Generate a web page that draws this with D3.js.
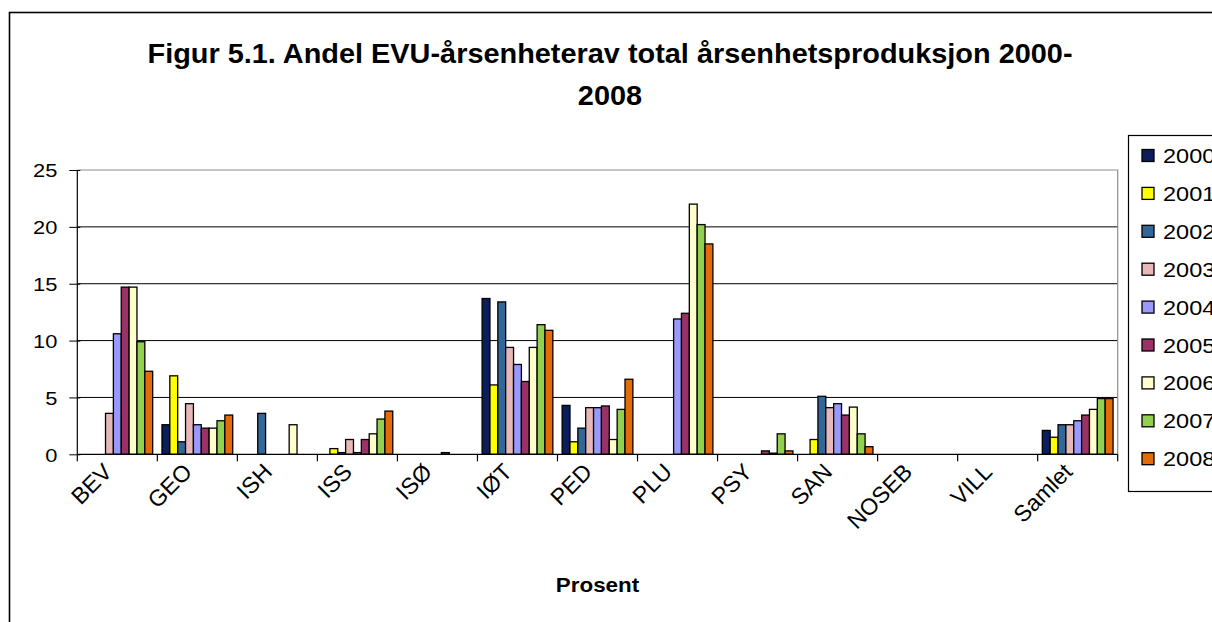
<!DOCTYPE html>
<html>
<head>
<meta charset="utf-8">
<script src="https://cdn.jsdelivr.net/npm/d3@7"></script>
<style>
  html, body { margin: 0; padding: 0; background: #fff; }
  svg { display: block; font-family: "Liberation Sans", Arial, sans-serif; }
</style>
</head>
<body>
<svg id="chart" width="1212" height="622"></svg>
<script>
const categories = ["BEV", "GEO", "ISH", "ISS", "ISØ", "IØT", "PED", "PLU", "PSY", "SAN", "NOSEB", "VILL", "Samlet"];
const years = ["2000", "2001", "2002", "2003", "2004", "2005", "2006", "2007", "2008"];
const colors = ["#0B1D5A", "#FFFF00", "#336699", "#E6B9B8", "#9999FF", "#993366", "#FFFFCC", "#92D050", "#E36C09"];
// values per year, in category order
const v2000 = [0, 2.6, 0, 0, 0, 13.7, 4.3, 0, 0, 0, 0, 0, 2.1];
const v2001 = [0, 6.9, 0, 0.5, 0, 6.1, 1.1, 0, 0, 1.3, 0, 0, 1.5];
const v2002 = [0, 1.1, 3.6, 0.15, 0, 13.4, 2.3, 0, 0, 5.1, 0, 0, 2.6];
const v2003 = [3.6, 4.45, 0, 1.3, 0, 9.4, 4.1, 0, 0, 4.1, 0, 0, 2.6];
const v2004 = [10.6, 2.6, 0, 0.15, 0, 7.9, 4.1, 11.9, 0, 4.45, 0, 0, 2.95];
const v2005 = [14.7, 2.3, 0, 1.3, 0.15, 6.4, 4.25, 12.4, 0.3, 3.45, 0, 0, 3.45];
const v2006 = [14.7, 2.3, 2.6, 1.8, 0, 9.4, 1.3, 22.0, 0.1, 4.15, 0, 0, 3.95];
const v2007 = [9.9, 2.95, 0, 3.1, 0, 11.4, 3.95, 20.2, 1.8, 1.8, 0, 0, 4.9];
const v2008 = [7.3, 3.45, 0, 3.8, 0, 10.9, 6.6, 18.5, 0.3, 0.67, 0, 0, 4.9];
const yTicks = [0, 5, 10, 15, 20, 25];
const titleLines = ["Figur 5.1. Andel EVU-årsenheterav total årsenhetsproduksjon 2000-", "2008"];
const xTitle = "Prosent";

const seriesValues = [v2000, v2001, v2002, v2003, v2004, v2005, v2006, v2007, v2008];

const svg = d3.select("#chart");
svg.append("rect").attr("width", 1212).attr("height", 622).attr("fill", "#fff");

// outer chart border
svg.append("rect")
  .attr("x", 9.5).attr("y", 12.5).attr("width", 1300).attr("height", 700)
  .attr("fill", "none").attr("stroke", "#000").attr("stroke-width", 1.6);

const pLeft = 77.3, pRight = 1117.7, pTop = 170, pBottom = 454.3;

const x = d3.scaleBand().domain(categories).range([pLeft, pRight]).paddingInner(0).paddingOuter(0);
const bw = x.bandwidth();
const xs = d3.scaleBand().domain(years).range([bw * 0.058, bw * 0.942]).padding(0);
const y = d3.scaleLinear().domain([0, 25]).range([pBottom, pTop]);

// gridlines
svg.append("g").selectAll("line").data(yTicks.filter(d => d > 0 && d < 25)).join("line")
  .attr("x1", pLeft).attr("x2", pRight)
  .attr("y1", d => y(d)).attr("y2", d => y(d))
  .attr("stroke", "#000").attr("stroke-width", 1);

// plot border top/right (grey)
svg.append("path")
  .attr("d", `M${pLeft},${y(25)}H${pRight}V${pBottom}`)
  .attr("fill", "none").attr("stroke", "#8c8c8c").attr("stroke-width", 1.2);

// bars
const g = svg.append("g");
years.forEach((yr, si) => {
  g.append("g").selectAll("rect")
    .data(categories.map((c, ci) => ({ c, v: seriesValues[si][ci] })).filter(d => d.v > 0))
    .join("rect")
    .attr("x", d => x(d.c) + xs(yr))
    .attr("width", xs.bandwidth())
    .attr("y", d => y(d.v))
    .attr("height", d => y(0) - y(d.v))
    .attr("fill", colors[si])
    .attr("stroke", "#000").attr("stroke-width", 1.3);
});

// y axis
const yAxis = d3.axisLeft(y).tickValues(yTicks).tickSize(8).tickPadding(12);
const ya = svg.append("g").attr("transform", `translate(${pLeft},0)`).call(yAxis);
ya.select(".domain").attr("stroke", "#000").attr("stroke-width", 1.2).attr("d", `M0,${pTop}V${pBottom}`);
ya.selectAll(".tick line").attr("stroke", "#000").attr("x2", -8).attr("x1", 3);
ya.selectAll(".tick text")
  .attr("x", null).attr("dy", null)
  .attr("transform", "translate(-20,0) scale(1.15,1)")
  .attr("dominant-baseline", "central")
  .attr("font-size", 19).attr("fill", "#000")
  .attr("font-family", "Liberation Sans, Arial, sans-serif");

// x axis
svg.append("line").attr("x1", pLeft).attr("x2", pRight).attr("y1", pBottom).attr("y2", pBottom)
  .attr("stroke", "#000").attr("stroke-width", 1.2);
const bounds = categories.map(c => x(c)).concat([pRight]);
svg.append("g").selectAll("line").data(bounds).join("line")
  .attr("x1", d => d).attr("x2", d => d).attr("y1", pBottom).attr("y2", pBottom + 7)
  .attr("stroke", "#000").attr("stroke-width", 1.2);

svg.append("g").selectAll("text").data(categories).join("text")
  .attr("transform", d => `translate(${x(d) + bw / 2 - 4},${pBottom + 19}) rotate(-45)`)
  .attr("text-anchor", "end")
  .attr("font-size", 23)
  .attr("fill", "#000")
  .text(d => d);

// title
svg.append("g").selectAll("text").data(titleLines).join("text")
  .attr("transform", (d, i) => `translate(610,${63 + i * 42}) scale(1.07,1)`)
  .attr("text-anchor", "middle")
  .attr("font-size", 27).attr("font-weight", "bold")
  .attr("fill", "#000")
  .text(d => d);

// x title
svg.append("text")
  .attr("transform", `translate(${(pLeft + pRight) / 2},592) scale(1.12,1)`)
  .attr("text-anchor", "middle").attr("font-size", 20).attr("font-weight", "bold")
  .text(xTitle);

// legend
const lg = svg.append("g");
lg.append("rect").attr("x", 1128.5).attr("y", 135.5).attr("width", 120).attr("height", 356)
  .attr("fill", "#fff").attr("stroke", "#000").attr("stroke-width", 1.2);
const items = lg.selectAll("g.item").data(years).join("g").attr("class", "item")
  .attr("transform", (d, i) => `translate(1142,${156 + i * 37.9})`);
items.append("rect").attr("x", 0).attr("y", -6.5).attr("width", 12).attr("height", 12)
  .attr("fill", (d, i) => colors[i]).attr("stroke", "#000").attr("stroke-width", 1.3);
items.append("text")
  .attr("transform", "translate(21,0) scale(1.12,1)")
  .attr("dominant-baseline", "central")
  .attr("font-size", 21).attr("fill", "#000").text(d => d);
</script>
</body>
</html>
